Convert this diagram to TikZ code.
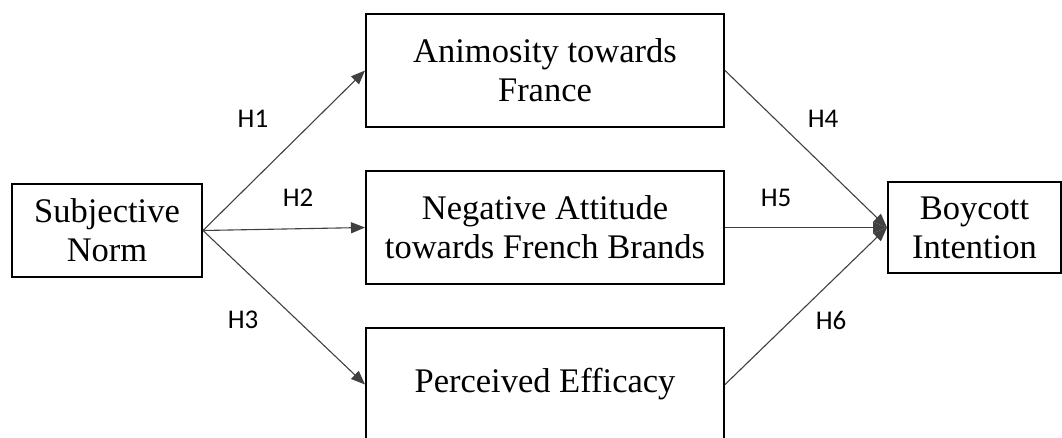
\documentclass[tikz,border=0pt]{standalone}
\usepackage{fontspec}
\setmainfont{Liberation Serif}
\newfontfamily\hypfont{Carlito}
\usetikzlibrary{positioning,arrows.meta,chains}

\begin{document}
\begin{tikzpicture}[x=1pt,y=-1pt]
	\useasboundingbox (0,0) rectangle (1062,437);
	\tikzset{construct/.style={draw,line width=2pt,align=center,inner sep=0pt,
		font=\fontsize{34.5}{39}\selectfont}}
	\tikzset{hypo/.style={font=\hypfont\fontsize{27}{30}\selectfont}}
	\tikzset{path/.style={draw=black!75,line width=1.1pt,-{Triangle[length=14pt,width=11pt]}}}

	\edef\boxwidth{358pt}
	\edef\boxheight{113pt}
	\tikzstyle{mediator}=[construct,minimum width=\boxwidth,minimum height=\boxheight]

	%% Outer constructs
	\node[construct,minimum width=190pt,minimum height=93pt] (sn) at (107,230.5) {Subjective\\Norm};
	\node[construct,minimum width=173pt,minimum height=91pt] (bi) at (974.5,227.5) {Boycott\\Intention};

	%% Mediators
	\begin{scope}[start chain=1 going below,node distance=42pt]
	    \node [on chain=1,mediator] (an) at (545,70.5) {Animosity towards\\France};
	    \node [on chain=1,mediator] (na) {Negative Attitude\\towards French Brands};
	    \node [on chain=1,mediator] (pe) {Perceived Efficacy};
	\end{scope}

	%% Paths
	\draw[path] (sn.east) -- (an.west);
	\draw[path] (sn.east) -- (na.west);
	\draw[path] (sn.east) -- (pe.west);
	\draw[path] (an.east) -- (bi.west);
	\draw[path] (na.east) -- (bi.west);
	\draw[path] (pe.east) -- (bi.west);

	%% Hypotheses
	\node[hypo] (h1) at (253,119) {H1};
	\node[hypo] (h2) at (298,198) {H2};
	\node[hypo] (h3) at (243,320) {H3};
	\node[hypo] (h4) at (823,119) {H4};
	\node[hypo] (h5) at (776,198) {H5};
	\node[hypo] (h6) at (831,320) {H6};
\end{tikzpicture}
\end{document}
